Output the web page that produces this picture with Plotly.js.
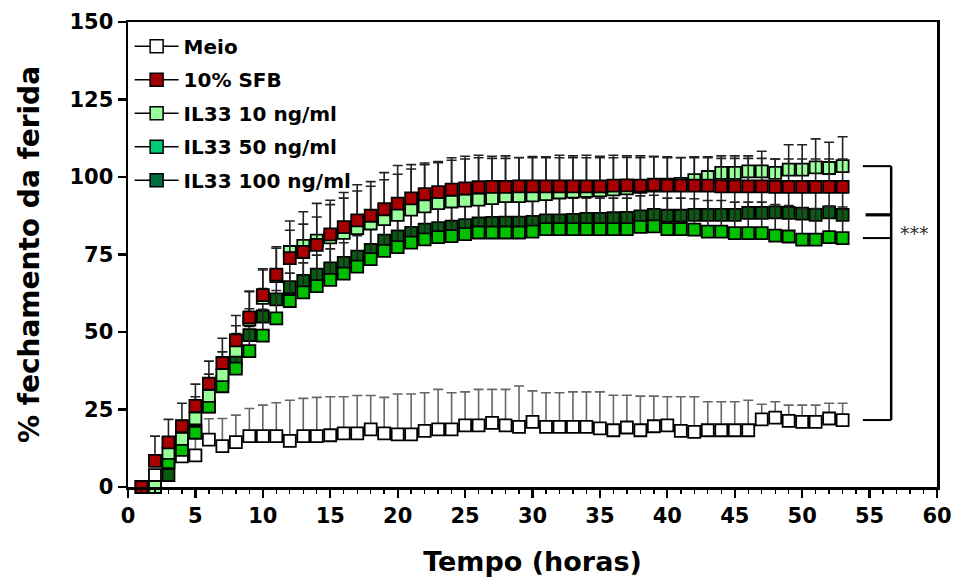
<!DOCTYPE html>
<html>
<head>
<meta charset="utf-8">
<script src="https://cdn.plot.ly/plotly-3.0.1.min.js"></script>
<style>html,body{margin:0;padding:0;background:#fff;}#chart{width:957px;height:588px;}</style>
</head>
<body>
<div id="chart"></div>
<script>
// ---------- DATA ----------
const seriesNames = ["Meio", "10% SFB", "IL33 10 ng/ml", "IL33 50 ng/ml", "IL33 100 ng/ml"];

const hoursAll = [1,2,3,4,5,6,7,8,9,10,11,12,13,14,15,16,17,18,19,20,21,22,23,24,25,26,27,28,29,30,31,32,33,34,35,36,37,38,39,40,41,42,43,44,45,46,47,48,49,50,51,52,53];
const hoursIL = [2,3,4,5,6,7,8,9,10,11,12,13,14,15,16,17,18,19,20,21,22,23,24,25,26,27,28,29,30,31,32,33,34,35,36,37,38,39,40,41,42,43,44,45,46,47,48,49,50,51,52,53];

const meio = [0,3.8,8.1,9.9,10.2,15.3,13.2,14.5,16.4,16.4,16.4,14.9,16.4,16.4,16.7,17.3,17.3,18.6,17.3,17.0,17.0,18.1,18.6,18.6,19.9,19.9,20.7,19.9,19.4,21.0,19.4,19.4,19.4,19.4,18.9,18.3,19.2,18.3,19.6,19.9,18.1,17.8,18.3,18.3,18.3,18.3,21.8,22.4,21.3,21.0,21.0,22.1,21.6];
const meioErr = [0,1.2,3.9,4.1,6.8,6.7,8.9,8.7,8.9,10.0,10.8,13.1,12.2,12.5,12.4,11.8,12.2,10.9,11.6,13.0,13.0,12.3,12.9,11.8,10.8,11.6,10.8,11.6,13.2,10.0,11.0,11.0,11.3,11.3,11.8,11.3,10.4,11.0,9.7,9.2,11.0,11.3,9.2,9.2,9.2,9.7,4.9,5.1,5.1,5.4,5.4,4.9,5.4];

const sfb = [0,8.4,14.4,19.6,26.2,33.3,40.0,47.3,54.7,61.9,68.5,73.8,75.8,78.1,81.5,83.8,86.0,87.5,89.6,91.4,93.1,94.5,95.1,95.9,96.3,96.7,96.8,96.8,97.0,97.0,97.0,97.0,97.0,97.0,97.0,97.2,97.3,97.2,97.5,97.2,97.2,97.2,97.2,97.0,97.0,97.0,97.0,96.8,96.8,96.8,96.8,96.8,96.8];
const sfbErr = [0,8,7.4,7.4,7,7.3,8,8,8.5,8.5,9,9,9,9,9.6,9.4,9.5,9.5,9.5,9.5,9.5,9.5,9.5,9.5,9.5,9.5,9.2,9.2,9.2,9.2,9.2,9.2,9.2,9.2,9.2,9.0,9.0,9.0,9.0,9.0,9.0,9.0,9.0,9.0,9.0,9.0,9.0,9.0,9.0,9.0,9.0,9.0,9.0];

const il10 = [0,11,15.5,22.1,29.4,36.1,44.0,54,61,68,75.8,77.8,79.5,80.5,82,83.5,85,86.4,87.8,89.5,90.5,91.6,92.1,92.4,92.7,93.2,93.8,93.8,94.1,94.5,95.0,95.3,95.5,95.7,96.0,96.3,96.8,97.2,97.5,97.8,99.0,100.0,101.3,101.3,101.8,101.8,101.3,102.4,102.4,103.1,102.9,103.5];
const il10Err = [0,5,6,7,7,7.5,8,9,9,9,10,11,12,12,13,14,13.5,15,15.9,14.5,14,13.4,14.1,14.3,14.3,13.5,13,12.5,12.5,12,12,11.5,11.5,11,11,10.5,10,9.5,9,8.5,7.5,6.5,5.5,5.5,5,6.5,4.5,8,8,9.2,8.3,9.5];

const il50 = [0,8,12,17.5,25.9,32.5,38.2,43.8,48.8,54.4,60,62.8,64.8,66.8,68.8,71.1,73.5,76.2,77.4,78.8,79.9,80.6,80.9,81.6,82.1,82.1,82.1,82.1,82.4,83.2,83.2,83.2,83.2,83.2,83.2,83.2,83.9,84.1,83.2,83.2,83.0,82.4,82.4,81.9,81.9,81.9,81.1,80.8,79.8,79.8,80.6,80.3];
const il50Err = [0,5,6,6,7,7,7.5,8,8.5,9,9,9.5,10,10,10,10,10,10,10,10,10,10,10,10,10,10,10,10,10,10,10,10,10,10,10,10,10,10,10,10,10,10,10,10,10,10,10,10,10,10,10,10];

const il100 = [0,3.8,14,18.1,26,34,41.5,49,55,60.5,64.5,66.5,68.5,70.5,72.3,74.3,76.5,79.5,80.8,82,83,83.5,84,84.5,85,85.2,85.3,85.3,85.5,86,86,86.2,86.5,86.5,86.7,86.8,87.3,87.8,87.5,87.5,87.8,87.8,87.8,87.8,88.4,88.4,88.6,88.4,88.2,87.8,88.6,87.8];
const il100Err = [0,4,6,7,7,7.5,8,8.5,9,9,9,9,9,9,9,9,9,9,9,9,9,9,9,9,9,9,9,9,9,9,9,9,9,9,9,9,9,9,9,9,9,9,9,9,9,9,9,9,9,9,9,9];

const xTicks = [0,5,10,15,20,25,30,35,40,45,50,55,60];
const yTicks = [0,25,50,75,100,125,150];
const signifLabel = "***";

// ---------- STYLE ----------
const FONT = "DejaVu Sans, Liberation Sans, Arial, sans-serif";
const markerColors = {meio:"#ffffff", sfb:"#a80000", il10:"#99ff99", il50:"#00c000", il100:"#0b5a12"};
const legendColors = ["#ffffff", "#a00000", "#99ff99", "#00cc77", "#006b3c"];

function upErr(arr, color){
  return {type:"data", symmetric:false, array:arr, arrayminus:arr.map(()=>0),
          color:color, thickness:1.6, width:5};
}
function dataTrace(x, y, err, fill, errColor){
  return {x:x, y:y, type:"scatter", mode:"markers", showlegend:false, cliponaxis:false,
          marker:{symbol:"square", size:12, color:fill, line:{color:"#000", width:1.8}},
          error_y:upErr(err, errColor), hoverinfo:"x+y"};
}

const traces = [
  dataTrace(hoursAll, meio, meioErr, markerColors.meio, "#666"),
  dataTrace(hoursIL, il100, il100Err, markerColors.il100, "#222"),
  dataTrace(hoursIL, il50, il50Err, markerColors.il50, "#222"),
  dataTrace(hoursIL, il10, il10Err, markerColors.il10, "#222"),
  dataTrace(hoursAll, sfb, sfbErr, markerColors.sfb, "#222")
];
// legend entries
seriesNames.forEach((n,i)=>{
  traces.push({x:[null], y:[null], type:"scatter", mode:"lines+markers", name:n, showlegend:true,
    legendgroup:"g"+i,
    line:{color:"#000", width:1.5},
    marker:{symbol:"square", size:13, color:legendColors[i], line:{color:"#000", width:1.5}}});
});

// bracket from last values of each series
const last = a => a[a.length-1];
const bx0 = 54.5, bx1 = 56.6;
const bracketYs = [last(il10), last(il100), last(il50), last(meio)];
const shapes = [];
bracketYs.forEach((yv,i)=>{
  shapes.push({type:"line", xref:"x", yref:"y", x0:(i===1?54.7:bx0), x1:bx1, y0:yv, y1:yv,
               line:{color:"#000", width:(i===1?3.2:2)}});
});
shapes.push({type:"line", xref:"x", yref:"y", x0:bx1, x1:bx1, y0:last(meio), y1:last(il10),
             line:{color:"#000", width:2.5}});

const layout = {
  width:957, height:588,
  margin:{l:128, r:20, t:22, b:101},
  paper_bgcolor:"#fff", plot_bgcolor:"#fff",
  font:{family:FONT, color:"#000"},
  showlegend:true,
  legend:{x:0.002, y:0.99, xanchor:"left", yanchor:"top", bgcolor:"rgba(0,0,0,0)",
          font:{family:FONT, size:20, weight:"bold", color:"#000"}, tracegroupgap:4.5, itemwidth:44},
  xaxis:{range:[0,60], tickvals:xTicks, ticks:"outside", ticklen:8, tickwidth:2.2, tickcolor:"#000",
         showline:true, linewidth:2.5, linecolor:"#000", mirror:true, showgrid:false, zeroline:false,
         minor:{dtick:1, tick0:0, ticks:"outside", ticklen:4, tickwidth:1.4, tickcolor:"#000", showgrid:false},
         tickfont:{family:FONT, size:21, weight:"bold", color:"#000"},
         title:{text:"Tempo (horas)", font:{family:FONT, size:27, weight:"bold", color:"#000"}, standoff:26},
         automargin:false},
  yaxis:{range:[0,150], tickvals:yTicks, ticks:"outside", ticklen:8, tickwidth:2.2, tickcolor:"#000",
         showline:true, linewidth:2.5, linecolor:"#000", mirror:true, showgrid:false, zeroline:false,
         tickfont:{family:FONT, size:21, weight:"bold", color:"#000"},
         title:{text:"% fechamento da ferida", font:{family:FONT, size:28, weight:"bold", color:"#000"}, standoff:22},
         automargin:false},
  shapes:shapes,
  annotations:[{x:58.3, y:82, xref:"x", yref:"y", text:signifLabel, showarrow:false,
                font:{family:FONT, size:19, color:"#333"}, xanchor:"center", yanchor:"middle"}]
};

Plotly.newPlot("chart", traces, layout, {displayModeBar:false, staticPlot:true});
</script>
</body>
</html>
